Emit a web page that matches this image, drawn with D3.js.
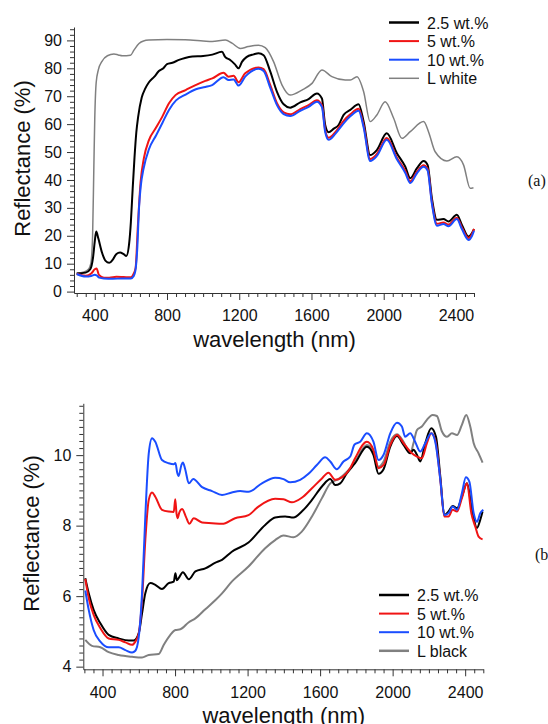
<!DOCTYPE html>
<html>
<head>
<meta charset="utf-8">
<script src="https://cdn.jsdelivr.net/npm/d3@7"></script>
<style>
  html, body { margin: 0; padding: 0; background: #fff; }
  svg { display: block; }
  text { font-family: "Liberation Sans", Arial, sans-serif; fill: #111; }
</style>
</head>
<body>
<svg id="chart" width="548" height="724"></svg>
<script>
// ---------- Panel (a): samples on the white substrate ----------
const aBlackX = [300,350,375,390,400,408,420,440,460,480,500,520,540,560,575,590,600,610,620,630,640,660,680,700,730,755,780,800,830,866,900,940,1000,1051,1104,1123,1150,1175,1196,1215,1240,1280,1307,1335,1372,1409,1446,1482,1538,1584,1630,1658,1676,1695,1722,1750,1778,1815,1861,1889,1925,1962,2017,2073,2119,2147,2184,2221,2243,2267,2295,2331,2359,2405,2433,2470,2488,2500];
const aBlackY = [6.5,6.8,8,12,18,21.5,19,14,11,10.3,11.5,13.5,14,13.4,12.8,17,25,37,48,57,62.5,69.5,72.8,75,77,79,80,81.5,82,83,83.7,84.2,84.4,84.9,85.9,84,83,81.5,80,82.3,84,85,85.4,84.7,78.8,71.6,67.1,65.9,67.8,69,71,69.2,59.7,57.1,58.3,59.7,63.3,65.1,67.1,60.9,48.9,50.7,56.7,49.6,44.8,40.6,44.2,46.8,45.4,33.4,25.7,26,25.1,27.5,23.9,19.7,20.9,22.4];

const aRedX = [300,350,382,400,410,423,451,480,520,560,600,612,626,639,654,672,700,737,774,811,847,903,958,1012,1051,1113,1141,1169,1196,1233,1307,1335,1372,1409,1446,1482,1538,1584,1630,1658,1676,1695,1732,1778,1815,1861,1889,1925,1962,2017,2073,2119,2147,2184,2221,2243,2267,2295,2331,2359,2405,2433,2470,2488,2500];
const aRedY = [6.4,5.7,6.6,8.0,8.3,6,5,5,5.3,5.2,5.1,6,8.4,23.9,39.4,47.8,54.3,58.5,62.7,67.5,70.4,72.2,74,75.5,76.4,78.4,77,77.3,75,78.2,80.3,79.7,74,67.5,64.2,63.5,65.4,66.8,68.6,66.8,57.9,55.1,57.1,61.2,63.5,65.5,59.5,47.5,49.3,55,48,43.3,39.5,43,45.3,44,32,24.3,24.8,24,26.5,23,19.2,20.5,22.5];

const aBlueX = [300,350,380,400,410,425,450,500,550,600,615,625,635,645,655,670,700,740,775,810,850,900,960,1012,1050,1113,1141,1169,1196,1233,1307,1335,1372,1409,1446,1482,1538,1584,1630,1658,1676,1695,1732,1778,1815,1861,1889,1925,1962,2017,2073,2119,2147,2184,2221,2243,2267,2295,2331,2359,2405,2433,2470,2488,2500];
const aBlueY = [6.3,5.4,5.6,6.0,5.8,5.0,4.7,4.6,4.7,4.7,5.5,7.5,15,30,38,44,51,56,60.5,65,68.5,70.5,72.5,73.3,74,76.8,75.8,76,73.8,77,79.8,79,73,66.8,63.6,62.9,64.8,66.2,68,66.1,57.2,54.4,56.5,60.3,62.8,64.8,58.8,46.8,48.6,54.4,47.4,42.6,38.9,42.4,44.7,43.4,31.4,23.6,24.2,23.4,26,22.4,18.5,19.8,21.8];

const aWhiteX = [300,340,365,378,388,395,400,408,420,440,470,506,530,552,598,617,645,670,700,800,900,1000,1050,1123,1160,1206,1250,1307,1344,1390,1437,1482,1547,1603,1658,1713,1787,1815,1852,1889,1925,1962,2008,2055,2101,2147,2221,2248,2285,2350,2405,2442,2479,2497];
const aWhiteY = [6.6,7.0,8,10,20,45,62,75,79.5,82.5,84.5,85.1,84.8,84.5,84.7,86.5,88.9,89.8,90.1,90.3,90.2,89.8,89.6,90.1,89,87.1,87.8,88.3,87.4,82.4,74,70.4,72.2,74.6,79.4,77,75.8,75.8,77,71.6,60.9,63.3,68,62.1,54.9,57.3,60.9,57.3,50.1,46.8,48.3,45.4,37,37.2];

// ---------- Panel (b): samples on the black substrate ----------
const bBlackX = [305,324,351,388,434,489,545,572,600,618,636,664,691,728,765,793,802,810,820,843,876,912,967,1023,1059,1113,1205,1297,1352,1407,1453,1499,1555,1610,1656,1683,1711,1748,1793,1858,1894,1922,1950,1987,2024,2060,2097,2115,2134,2152,2180,2213,2239,2263,2285,2308,2331,2355,2382,2410,2438,2465,2483,2496];
const bBlackY = [6.51,6.08,5.61,5.23,4.9,4.8,4.74,4.74,4.95,5.51,6.08,6.37,6.32,6.2,6.37,6.41,6.65,6.45,6.51,6.68,6.48,6.7,6.79,6.95,7.03,7.26,7.52,8.02,8.23,8.26,8.23,8.4,8.73,9.11,9.32,9.15,9.2,9.49,9.77,10.24,10.01,9.47,9.6,10.24,10.54,10.29,10.05,10.15,10.01,9.82,10.34,10.76,10.52,9.39,8.3,8.4,8.56,8.49,8.82,9.2,8.45,7.93,8.16,8.4];

const bRedX = [305,324,351,388,434,489,526,563,581,600,618,636,655,673,691,728,765,793,801,808,815,822,839,860,879,903,949,1004,1059,1131,1205,1260,1352,1398,1444,1499,1555,1610,1646,1683,1720,1766,1793,1858,1894,1922,1950,1987,2024,2060,2106,2134,2161,2189,2213,2235,2263,2285,2308,2331,2355,2382,2410,2434,2456,2474,2496];
const bRedY = [6.49,5.94,5.47,5.09,4.8,4.76,4.69,4.62,4.71,4.95,5.89,7.59,8.73,8.94,8.82,8.45,8.4,8.39,8.75,8.35,8.21,8.35,8.47,8.25,8.05,8.21,8.09,8.07,8.05,8.21,8.3,8.54,8.76,8.75,8.66,8.79,9.06,9.34,9.5,9.3,9.37,9.63,9.91,10.38,10.15,9.63,9.72,10.29,10.57,10.34,10.05,9.96,9.91,10.34,10.62,10.43,9.3,8.26,8.26,8.45,8.4,8.78,9.2,8.35,7.97,7.69,7.61];

const bBlueX = [305,324,351,388,434,489,526,563,581,600,618,636,655,673,691,728,765,793,802,812,820,835,843,856,876,900,949,1004,1059,1113,1159,1205,1279,1352,1398,1435,1490,1536,1582,1628,1656,1692,1729,1766,1790,1821,1858,1894,1922,1950,1987,2024,2051,2069,2097,2124,2152,2180,2213,2235,2263,2285,2308,2331,2355,2382,2404,2423,2447,2465,2483,2500];
const bBlueY = [6.16,5.61,5.04,4.71,4.55,4.55,4.47,4.4,4.45,4.85,6.08,8.26,10.05,10.48,10.38,9.86,9.77,9.74,9.78,9.5,9.41,9.72,9.79,9.6,9.2,9.32,9.09,8.98,8.87,8.94,8.98,8.96,9.2,9.36,9.32,9.23,9.3,9.47,9.72,9.94,9.82,9.6,9.82,9.96,10.3,10.38,10.62,10.38,9.86,10.01,10.62,10.92,10.81,10.52,10.62,10.38,10.1,10.34,10.62,10.38,9.3,8.3,8.35,8.54,8.45,8.92,9.37,9.25,8.35,8.11,8.35,8.45];

const bLblackX = [305,342,388,434,489,563,618,655,710,738,774,802,829,876,912,967,1023,1059,1113,1205,1297,1352,1398,1453,1499,1555,1610,1656,1701,1748,1793,1858,1894,1922,1950,1987,2024,2060,2097,2115,2134,2161,2189,2220,2244,2272,2300,2327,2355,2382,2406,2428,2447,2474,2496];
const bLblackY = [4.76,4.59,4.55,4.41,4.33,4.28,4.26,4.33,4.36,4.62,4.9,5.04,5.06,5.26,5.37,5.63,5.89,6.08,6.41,6.84,7.36,7.59,7.72,7.67,7.83,8.26,8.78,9.2,9.32,9.53,9.82,10.29,10.1,9.67,9.82,10.38,10.59,10.38,10.05,10.34,10.71,10.81,11,11.14,11.11,10.67,10.52,10.62,10.57,10.86,11.14,10.81,10.34,10.05,9.79];

// Axis ticks and legend entries
const xMajorTicks = [400, 800, 1200, 1600, 2000, 2400];
const aYMajorTicks = [0, 10, 20, 30, 40, 50, 60, 70, 80, 90];
const bYMajorTicks = [4, 6, 8, 10];
const aLegendLabels = ["2.5 wt.%", "5 wt.%", "10 wt.%", "L white"];
const bLegendLabels = ["2.5 wt.%", "5 wt.%", "10 wt.%", "L black"];

const COLORS = { black: "#000000", red: "#f01414", blue: "#1a4dff", grey: "#808080" };

const svg = d3.select("#chart");

function zip(xs, ys) { return xs.map((x, i) => ({ x, y: ys[i] })); }

function drawPanel(cfg) {
  const g = svg.append("g");
  const x = d3.scaleLinear().domain(cfg.xDomain).range(cfg.xRange);
  const y = d3.scaleLinear().domain(cfg.yDomain).range(cfg.yRange);
  const axisY = cfg.yRange[0];
  const axisX = cfg.xRange[0];

  // minor ticks
  const xMinor = d3.range(300, 2501, 50).filter(v => v >= cfg.xDomain[0] && !xMajorTicks.includes(v));
  g.append("g").attr("transform", `translate(0,${axisY})`)
    .call(d3.axisBottom(x).tickValues(xMinor).tickSize(4).tickFormat(""))
    .call(s => s.select(".domain").remove());
  const yMinor = d3.range(cfg.yMinorStart, cfg.yDomain[1] + 1e-9, cfg.yMinorStep)
    .map(v => +v.toFixed(3))
    .filter(v => !cfg.yTicks.some(t => Math.abs(t - v) < 1e-6));
  g.append("g").attr("transform", `translate(${axisX},0)`)
    .call(d3.axisLeft(y).tickValues(yMinor).tickSize(4).tickFormat(""))
    .call(s => s.select(".domain").remove());

  // major axes
  const gx = g.append("g").attr("transform", `translate(0,${axisY})`)
    .call(d3.axisBottom(x).tickValues(xMajorTicks).tickSize(7).tickSizeOuter(0).tickPadding(10).tickFormat(d3.format("d")));
  const gy = g.append("g").attr("transform", `translate(${axisX},0)`)
    .call(d3.axisLeft(y).tickValues(cfg.yTicks).tickSize(7).tickSizeOuter(0).tickPadding(5).tickFormat(d3.format("d")));
  [gx, gy].forEach(a => {
    a.selectAll("text").style("font-size", "16px").style("font-family", "'Liberation Sans', Arial, sans-serif").attr("fill", "#111");
  });
  g.selectAll(".tick line").attr("stroke", "#333");
  g.selectAll(".domain").attr("stroke", "#333");

  // curves
  const line = d3.line().x(d => x(d.x)).y(d => y(d.y)).curve(d3.curveMonotoneX);
  cfg.series.forEach(s => {
    g.append("path").datum(zip(s.xs, s.ys))
      .attr("fill", "none").attr("stroke", s.color)
      .attr("stroke-width", s.width).attr("stroke-linejoin", "round")
      .attr("d", line);
  });

  // axis titles
  g.append("text").attr("x", cfg.xTitle[0]).attr("y", cfg.xTitle[1])
    .attr("text-anchor", "middle").style("font-size", "22px").text("wavelength (nm)");
  g.append("text").attr("transform", `translate(${cfg.yTitle[0]},${cfg.yTitle[1]}) rotate(-90)`)
    .attr("text-anchor", "middle").style("font-size", "22px").text("Reflectance (%)");

  // legend
  const lg = g.append("g");
  cfg.legend.labels.forEach((lab, i) => {
    const cy = cfg.legend.y0 + i * cfg.legend.dy;
    const s = cfg.legend.styles[i];
    lg.append("line").attr("x1", cfg.legend.x0).attr("x2", cfg.legend.x0 + 30)
      .attr("y1", cy).attr("y2", cy).attr("stroke", s.color).attr("stroke-width", s.width);
    lg.append("text").attr("x", cfg.legend.x0 + 38).attr("y", cy + 6)
      .style("font-size", "16px").text(lab);
  });

  // panel tag
  g.append("text").attr("x", cfg.tag[0]).attr("y", cfg.tag[1])
    .style("font-family", "'Liberation Serif', 'Times New Roman', serif")
    .style("font-size", "16px").text(cfg.tag[2]);
}

drawPanel({
  xDomain: [285, 2500], xRange: [74, 474],
  yDomain: [-0.5, 94.8], yRange: [293, 27],
  yTicks: aYMajorTicks, yMinorStart: 2, yMinorStep: 2,
  series: [
    { xs: aWhiteX, ys: aWhiteY, color: COLORS.grey, width: 1.5 },
    { xs: aBlackX, ys: aBlackY, color: COLORS.black, width: 2 },
    { xs: aRedX, ys: aRedY, color: COLORS.red, width: 2 },
    { xs: aBlueX, ys: aBlueY, color: COLORS.blue, width: 2 }
  ],
  xTitle: [274.5, 347], yTitle: [29.5, 158.5],
  legend: { x0: 389, y0: 22.5, dy: 18.6, labels: aLegendLabels,
    styles: [{ color: COLORS.black, width: 2.5 }, { color: COLORS.red, width: 2 }, { color: COLORS.blue, width: 2 }, { color: COLORS.grey, width: 1.5 }] },
  tag: [528, 186, "(a)"]
});

drawPanel({
  xDomain: [294, 2500], xRange: [83.3, 483.3],
  yDomain: [3.925, 11.47], yRange: [669.3, 403.3],
  yTicks: bYMajorTicks, yMinorStart: 4.2, yMinorStep: 0.2,
  series: [
    { xs: bLblackX, ys: bLblackY, color: COLORS.grey, width: 2 },
    { xs: bBlackX, ys: bBlackY, color: COLORS.black, width: 2 },
    { xs: bRedX, ys: bRedY, color: COLORS.red, width: 2 },
    { xs: bBlueX, ys: bBlueY, color: COLORS.blue, width: 2 }
  ],
  xTitle: [283.8, 723], yTitle: [38.5, 533.5],
  legend: { x0: 379, y0: 595, dy: 18.6, labels: bLegendLabels,
    styles: [{ color: COLORS.black, width: 2.5 }, { color: COLORS.red, width: 2 }, { color: COLORS.blue, width: 2 }, { color: COLORS.grey, width: 2.5 }] },
  tag: [535, 560, "(b)"]
});
</script>
</body>
</html>
